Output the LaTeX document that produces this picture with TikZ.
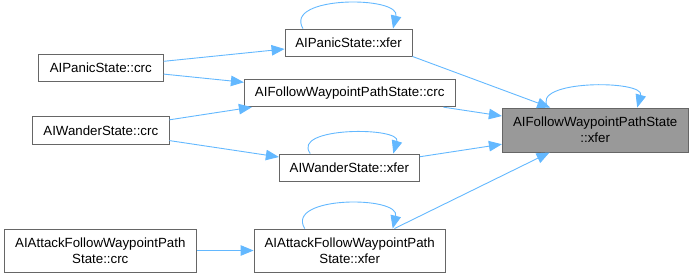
\documentclass[tikz,border=0pt]{standalone}
\usepackage{fontspec}
\setmainfont{Liberation Sans}
\usetikzlibrary{arrows.meta}
\definecolor{edgeblue}{HTML}{63B8FF}
\definecolor{boxline}{HTML}{666666}
\definecolor{curfill}{HTML}{999999}
\begin{document}
\begin{tikzpicture}[x=1pt,y=-1pt,
  fn/.style={draw=boxline,line width=0.9pt,fill=white,rectangle,inner sep=0pt,
    align=center,font=\fontsize{13.3}{15.7}\selectfont},
  cur/.style={fn,fill=curfill},
  call/.style={draw=edgeblue,line width=0.9pt,-{Triangle[length=13pt,width=10.5pt]}},
]
\useasboundingbox (0,0) rectangle (693,277);

% call graph nodes
\node[fn,minimum width=127pt,minimum height=27pt] (panx) at (348.5,42.5) {AIPanicState::xfer};
\node[fn,minimum width=125pt,minimum height=26.7pt] (panc) at (100.8,67.7) {AIPanicState::crc};
\node[fn,minimum width=210.7pt,minimum height=27.4pt] (fwpc) at (349.7,93) {AIFollowWaypointPathState::crc};
\node[fn,minimum width=136.3pt,minimum height=27.3pt] (wanc) at (100.8,130.3) {AIWanderState::crc};
\node[fn,minimum width=140pt,minimum height=27pt] (wanx) at (349.3,167.5) {AIWanderState::xfer};
\node[cur,minimum width=185.7pt,minimum height=44pt] (fwpx) at (595.2,130) {AIFollowWaypointPathState\\::xfer};
\node[fn,minimum width=192.7pt,minimum height=43pt] (attc) at (100.3,250.5) {AIAttackFollowWaypointPath\\State::crc};
\node[fn,minimum width=191.3pt,minimum height=43pt] (attx) at (349.7,250.5) {AIAttackFollowWaypointPath\\State::xfer};

% calls between functions
\draw[call] (panc) -- (panx);
\draw[call] (panc) -- (fwpc);
\draw[call] (wanc) -- ([xshift=8pt]fwpc.south west);
\draw[call] (wanc) -- (wanx);
\draw[call] (panx.south east) -- ([xshift=-45pt]fwpx.north);
\draw[call] (fwpc) -- (fwpx);
\draw[call] (wanx) -- (fwpx);
\draw[call] (attx) -- (fwpx);
\draw[call] (attc) -- (attx);

% recursive calls
\draw[call] ([xshift=-45.5pt]panx.north) .. controls +(-20,-33) and +(8,-33) .. ([xshift=44.5pt]panx.north);
\draw[call] ([xshift=-47pt]fwpx.north) .. controls +(-20,-28) and +(8,-28) .. ([xshift=42pt]fwpx.north);
\draw[call] ([xshift=-39pt]wanx.north) .. controls +(-20,-27) and +(8,-27) .. ([xshift=44pt]wanx.north);
\draw[call] ([xshift=-45pt]attx.north) .. controls +(-20,-33) and +(8,-33) .. ([xshift=43pt]attx.north);
\end{tikzpicture}
\end{document}
